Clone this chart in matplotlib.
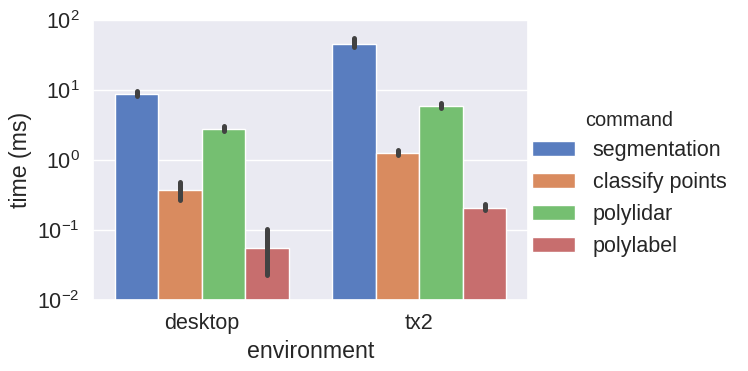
import numpy as np
import matplotlib.pyplot as plt
import seaborn as sns

environments = ['desktop', 'tx2']
commands = ['segmentation', 'classify points', 'polylidar', 'polylabel']

# mean time (ms) per command, one value per environment
mean_ms = {
    'segmentation':    [8.8, 46.0],
    'classify points': [0.37, 1.27],
    'polylidar':       [2.8, 5.9],
    'polylabel':       [0.056, 0.205],
}
# confidence interval low / high
ci_low = {
    'segmentation':    [8.1, 41.0],
    'classify points': [0.27, 1.17],
    'polylidar':       [2.6, 5.5],
    'polylabel':       [0.023, 0.19],
}
ci_high = {
    'segmentation':    [9.6, 55.0],
    'classify points': [0.49, 1.40],
    'polylidar':       [3.1, 6.5],
    'polylabel':       [0.104, 0.235],
}

sns.set_theme(style='darkgrid')
plt.rcParams['font.family'] = ['Liberation Sans', 'DejaVu Sans']
palette = [sns.desaturate(c, 0.75) for c in sns.color_palette('muted', 4)]

fig = plt.figure(figsize=(7.48, 3.71), dpi=100)
ax = fig.add_axes([93 / 748, 71 / 371, 435 / 748, 280 / 371])

x = np.arange(len(environments))
width = 0.8 / len(commands)
for i, cmd in enumerate(commands):
    pos = x - 0.4 + width * (i + 0.5)
    ax.bar(pos, mean_ms[cmd], width=width, color=palette[i], edgecolor='white',
           linewidth=1.0, label=cmd)
    for p, lo, hi in zip(pos, ci_low[cmd], ci_high[cmd]):
        ax.plot([p, p], [lo, hi], color='.26', lw=3.6, solid_capstyle='round')

ax.set_yscale('log')
ax.set_ylim(1e-2, 1e2)
ax.set_xlim(-0.5, 1.5)
ax.set_xticks(x)
ax.set_xticklabels(environments)
ax.grid(False, axis='x')
ax.set_xlabel('environment', fontsize=16.7, labelpad=4)
ax.set_ylabel('time (ms)', fontsize=16.7)
ax.tick_params(axis='both', labelsize=15.5)
ax.tick_params(axis='y', which='minor', left=False)

leg = fig.legend(title='command', loc='center left', bbox_to_anchor=(513 / 748, 0.505),
                 frameon=False, handlelength=2.0, fontsize=15.5, title_fontsize=14.4)

fig.savefig('out.png', dpi=100)
